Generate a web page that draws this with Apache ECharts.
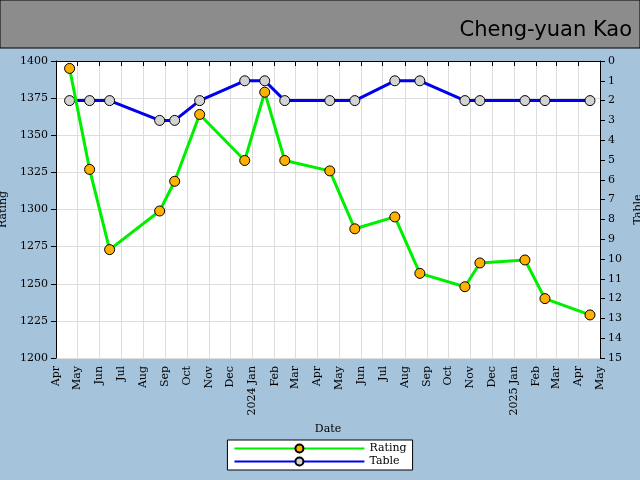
<!DOCTYPE html>
<html><head><meta charset="utf-8">
<script src="https://cdn.jsdelivr.net/npm/echarts@6/dist/echarts.min.js"></script>
<style>html,body{margin:0;padding:0;background:#a6c3dc}#c{width:640px;height:480px}</style>
</head><body><div id="c"></div>
<script>
const dates = ['2023-04-20','2023-05-18','2023-06-15','2023-08-24','2023-09-14','2023-10-19','2023-12-21','2024-01-18','2024-02-15','2024-04-18','2024-05-23','2024-07-18','2024-08-22','2024-10-24','2024-11-14','2025-01-16','2025-02-13','2025-04-17'];
const rating = [1395,1327,1273,1299,1319,1364,1333,1379,1333,1326,1287,1295,1257,1248,1264,1266,1240,1229];
const table = [2,2,2,3,3,2,1,1,2,2,2,1,1,2,2,2,2,2];
const monthNames = ['Jan','Feb','Mar','Apr','May','Jun','Jul','Aug','Sep','Oct','Nov','Dec'];
const F = 'DejaVu Serif';
const chart = echarts.init(document.getElementById('c'));
chart.setOption({
  backgroundColor:'#a6c3dc',
  animation:false,
  textStyle:{fontFamily:F},
  graphic:[
    {type:'rect',shape:{x:0,y:0,width:640,height:48},style:{fill:'#8c8c8c',stroke:'#000',lineWidth:1}},
    {type:'text',right:8,top:20,style:{text:'Cheng-yuan Kao',fontSize:21,fontFamily:'DejaVu Sans',fill:'#000'}}
  ],
  grid:{left:56,right:40,top:61,bottom:122,backgroundColor:'#fff',show:true,borderWidth:0,containLabel:false,outerBoundsMode:'none'},
  legend:{bottom:10,left:'center',orient:'vertical',backgroundColor:'#fff',borderColor:'#000',borderWidth:1,padding:[3,6],itemGap:2,itemWidth:130,itemHeight:10,align:'left',textStyle:{fontFamily:F,fontSize:11,color:'#000'},data:['Rating','Table']},
  xAxis:{type:'time',min:'2023-04-01',max:'2025-05-01',splitNumber:25,minInterval:28*86400000,
    name:'Date',nameLocation:'middle',nameGap:55,nameTextStyle:{fontFamily:F,fontSize:11,color:'#000'},
    axisLine:{lineStyle:{color:'#000'}},axisTick:{lineStyle:{color:'#000'}},
    splitLine:{show:true,lineStyle:{color:'#ddd'}},
    axisLabel:{rotate:90,fontFamily:F,fontSize:11,color:'#000',hideOverlap:false,showMinLabel:true,showMaxLabel:true,
      formatter:function(v){const d=new Date(v);const m=d.getMonth();return m===0?(d.getFullYear()+' Jan'):monthNames[m];}}},
  yAxis:[
    {type:'value',min:1200,max:1400,interval:25,name:'Rating',nameLocation:'middle',nameGap:34,nameTextStyle:{fontFamily:F,fontSize:11,color:'#000'},
      axisLine:{show:true,lineStyle:{color:'#000'}},axisTick:{show:true},splitLine:{lineStyle:{color:'#ddd'}},axisLabel:{fontFamily:F,fontSize:11,color:'#000',formatter:v=>String(v)}},
    {type:'value',min:0,max:15,interval:1,inverse:true,name:'Table',nameLocation:'middle',nameGap:26,nameTextStyle:{fontFamily:F,fontSize:11,color:'#000'},
      axisLine:{show:true,lineStyle:{color:'#000'}},axisTick:{show:true},splitLine:{show:false},axisLabel:{fontFamily:F,fontSize:11,color:'#000'}}
  ],
  series:[
    {name:'Rating',type:'line',yAxisIndex:0,data:dates.map((d,i)=>[d,rating[i]]),symbol:'circle',symbolSize:10,
      lineStyle:{color:'#00ee00',width:3},itemStyle:{color:'#ffb000',borderColor:'#000',borderWidth:1},z:3},
    {name:'Table',type:'line',yAxisIndex:1,data:dates.map((d,i)=>[d,table[i]]),symbol:'circle',symbolSize:10,
      lineStyle:{color:'#0000ee',width:3},itemStyle:{color:'#d3d3d3',borderColor:'#000',borderWidth:1},z:2}
  ]
});
</script></body></html>
